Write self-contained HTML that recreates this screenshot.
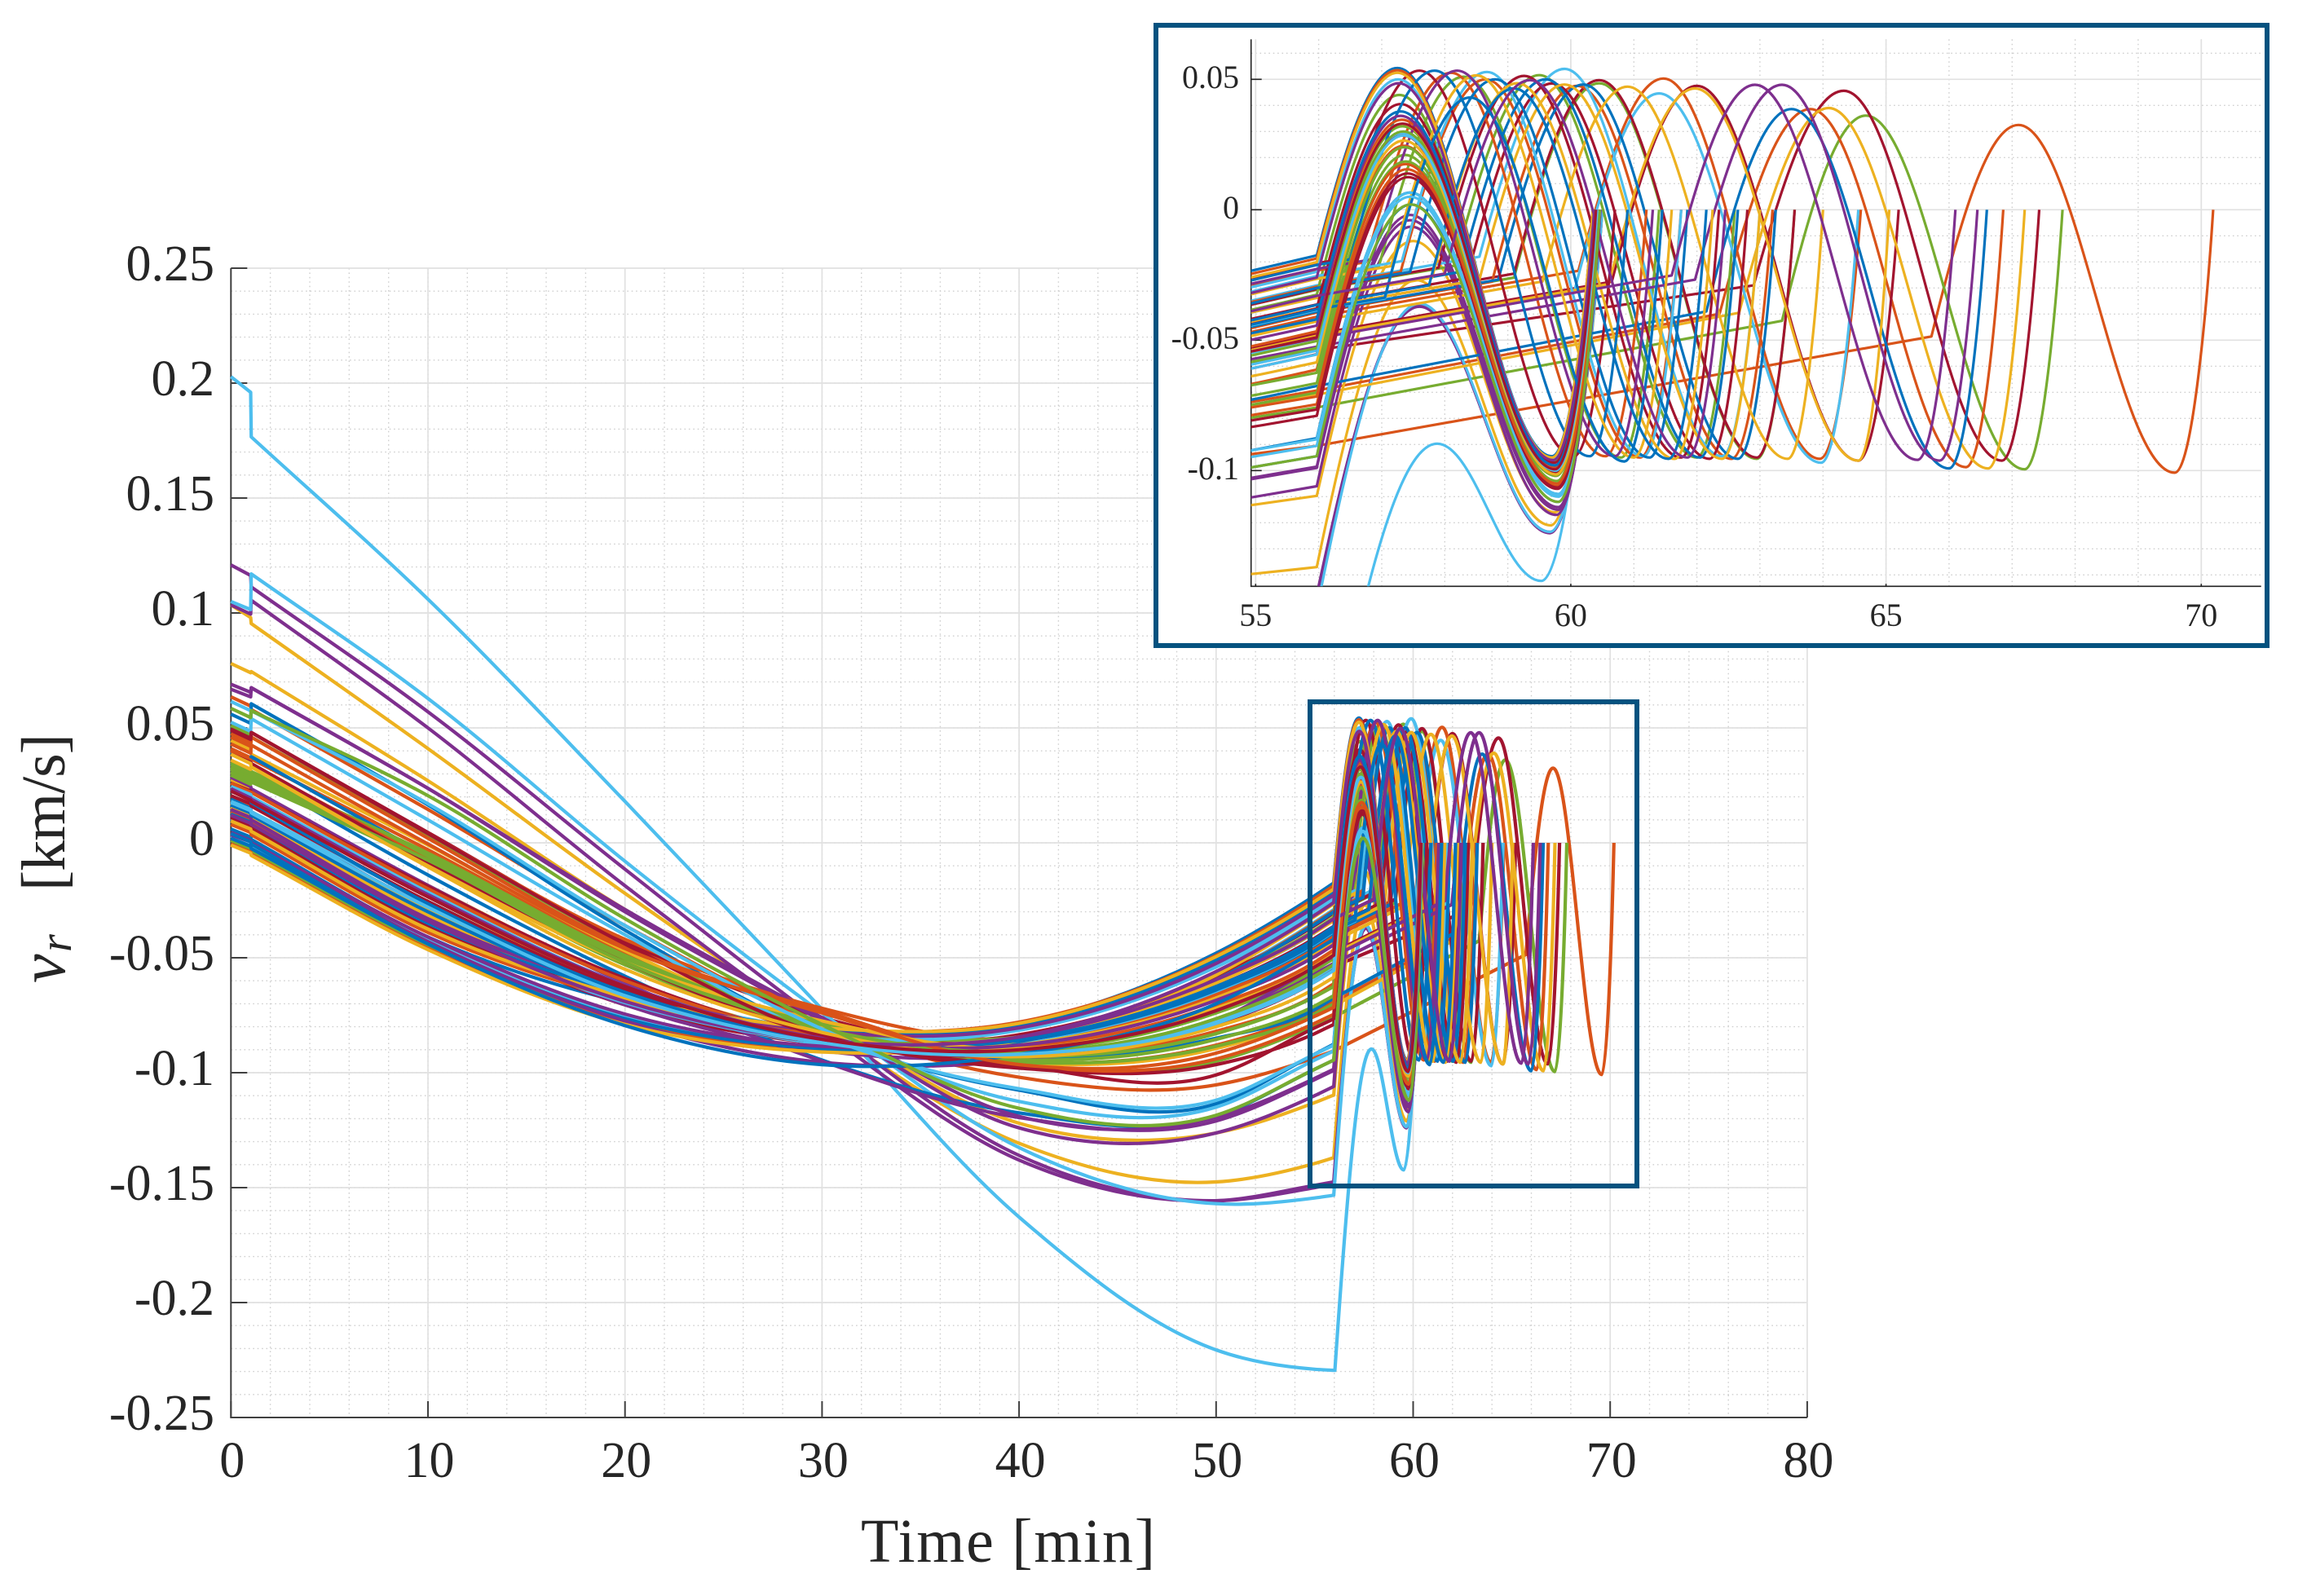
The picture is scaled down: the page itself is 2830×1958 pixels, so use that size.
<!DOCTYPE html>
<html lang="en">
<head>
<meta charset="utf-8">
<title>Radial velocity vs time</title>
<style>
html,body{margin:0;padding:0;background:#fff;}
svg{display:block;}
text{font-family:"Liberation Serif",serif;fill:#262626;}
</style>
</head>
<body>
<svg id="chart" xmlns="http://www.w3.org/2000/svg" width="2830" height="1958" viewBox="0 0 2830 1958">
  <defs>
    <clipPath id="inset-clip"><rect x="1534.7" y="48.3" width="1239" height="671"/></clipPath>
  </defs>
  <rect x="0" y="0" width="2830" height="1958" fill="#fff"/>
  <g id="main-axes"></g>
  <g id="main-curves" fill="none" stroke-linejoin="round"></g>
  <rect x="1607" y="861" width="401" height="594" fill="none" stroke="#04527f" stroke-width="6"/>
  <text x="1056" y="1916" font-size="76" textLength="361">Time [min]</text>
  <text transform="translate(79,1206) rotate(-90)" font-size="80" font-style="italic">v</text>
  <text transform="translate(87,1168) rotate(-90)" font-size="56" font-style="italic">r</text>
  <text transform="translate(79,1093) rotate(-90)" font-size="76" textLength="193">[km/s]</text>
  <rect x="1418" y="31" width="1363" height="761" fill="#fff" stroke="#04527f" stroke-width="6"/>
  <g id="inset-axes"></g>
  <g id="inset-curves" fill="none" stroke-linejoin="round" clip-path="url(#inset-clip)"></g>
</svg>
<script>
// Axis ticks and labels
const mainXTicks = [0,10,20,30,40,50,60,70,80];
const mainXTickLabels = ['0','10','20','30','40','50','60','70','80'];
const mainYTicks = [0.25,0.2,0.15,0.1,0.05,0,-0.05,-0.1,-0.15,-0.2,-0.25];
const mainYTickLabels = ['0.25','0.2','0.15','0.1','0.05','0','-0.05','-0.1','-0.15','-0.2','-0.25'];
const insetXTicks = [55,60,65,70];
const insetXTickLabels = ['55','60','65','70'];
const insetYTicks = [0.05,0,-0.05,-0.1];
const insetYTickLabels = ['0.05','0','-0.05','-0.1'];

// Sample times (min) for the coast columns below
const coastTimes = [0,1,1.03,10,20,30,40,50,55,55.97];

// Coast-phase radial velocity (km/s), one row per run, columns follow coastTimes
const coastBlue = [
[.006,.0025,.0015,-.041,-.0695,-.0815,-.0785,-.048,-.023,-.0175],
[.056,.052,.0605,.0165,-.038,-.084,-.1076,-.1135,-.0919,-.0876],
[.0345,.031,.03,-.014,-.058,-.0945,-.1175,-.119,-.0985,-.0945],
[.0395,.0355,.0375,-.0055,-.0495,-.083,-.094,-.085,-.0725,-.0676],
[.019,.015,.0135,-.028,-.065,-.0855,-.0865,-.0645,-.0445,-.039],
[.0145,.0105,.0095,-.0325,-.068,-.086,-.0845,-.0605,-.039,-.0335],
[.002,-.0015,-.0025,-.0435,-.0765,-.0895,-.0865,-.0595,-.0355,-.03],
[.0125,.009,.008,-.035,-.0655,-.081,-.0795,-.051,-.0267,-.0212],
[.0165,.013,.012,-.03,-.066,-.0855,-.0855,-.0625,-.042,-.0365],
[.0225,.019,.0175,-.0265,-.065,-.0855,-.086,-.064,-.0437,-.0382],
[.004,.0005,-.0005,-.044,-.0795,-.0965,-.092,-.07,-.047,-.042]
];
const coastOrange = [
[.0635,.0595,.058,.0145,-.036,-.079,-.102,-.1053,-.0935,-.0905],
[.041,.037,.0365,-.003,-.048,-.0815,-.0955,-.088,-.0734,-.0693],
[.0205,.0165,.016,-.026,-.064,-.083,-.087,-.066,-.0465,-.041],
[.0475,.0435,.048,.004,-.042,-.072,-.0855,-.065,-.045,-.0394],
[-.0005,-.004,-.005,-.046,-.078,-.0905,-.0865,-.0595,-.035,-.0295],
[.0135,.01,.009,-.034,-.065,-.0815,-.08,-.052,-.0288,-.0233],
[.008,.0045,.0035,-.039,-.068,-.081,-.078,-.049,-.0242,-.0187],
[.026,.022,.022,-.02,-.06,-.0845,-.089,-.0705,-.052,-.0466],
[.04,.036,.034,-.0075,-.052,-.0815,-.0925,-.082,-.0665,-.0613],
[.046,.042,.046,.002,-.045,-.073,-.0965,-.094,-.0785,-.0746],
[.043,.039,.0425,-.0005,-.046,-.074,-.0965,-.0915,-.0755,-.0716]
];
const coastYellow = [
[.1035,.098,.0954,.041,-.022,-.08,-.1307,-.1475,-.1395,-.137],
[.078,.074,.0745,.027,-.029,-.077,-.122,-.1262,-.113,-.1097],
[.0445,.0405,.0385,-.001,-.047,-.082,-.096,-.0895,-.075,-.0709],
[.0275,.0235,.023,-.0185,-.0595,-.084,-.0895,-.0715,-.0535,-.0483],
[.0225,.0185,.018,-.0235,-.063,-.085,-.0875,-.0675,-.048,-.0428],
[.017,.0135,.0125,-.029,-.0665,-.0855,-.0855,-.0635,-.043,-.0378],
[.0155,.0115,.0105,-.0315,-.0675,-.086,-.0845,-.061,-.039,-.0338],
[-.001,-.0045,-.0055,-.0465,-.079,-.091,-.086,-.0575,-.032,-.0265],
[.0095,.006,.005,-.0375,-.067,-.0805,-.0785,-.0495,-.0255,-.0201],
[.0385,.0345,.033,-.01,-.052,-.0775,-.0895,-.072,-.054,-.0488],
[.036,.032,.033,-.0105,-.055,-.0825,-.093,-.08,-.0635,-.0585]
];
const coastPurple = [
[.1209,.1163,.1113,.057,-.0115,-.078,-.136,-.1557,-.15,-.1485],
[.1035,.0995,.1055,.05,-.0187,-.082,-.138,-.1557,-.149,-.1475],
[.069,.0655,.0675,.0237,-.03,-.0775,-.124,-.1262,-.11,-.106],
[.0668,.0635,.0674,.0237,-.029,-.076,-.119,-.1195,-.1025,-.0985],
[.0285,.0245,.0235,-.0185,-.061,-.095,-.1195,-.121,-.103,-.099],
[.012,.0085,.0075,-.033,-.0705,-.0905,-.0925,-.077,-.057,-.0525],
[.0035,.0005,-.0005,-.043,-.0775,-.0955,-.0945,-.0775,-.054,-.0493],
[.0145,.011,.01,-.033,-.0645,-.082,-.0805,-.0525,-.028,-.0227],
[.0045,.001,0,-.041,-.0745,-.0885,-.0845,-.056,-.0315,-.026],
[.0235,.0195,.019,-.0225,-.062,-.085,-.088,-.0685,-.0495,-.0444],
[.012,.0085,.008,-.034,-.069,-.086,-.0845,-.0595,-.0385,-.033]
];
const coastGreen = [
[.051,.047,.046,.003,-.044,-.0815,-.0975,-.095,-.0795,-.0758],
[.033,.029,.0285,-.0065,-.05,-.0785,-.086,-.0645,-.0445,-.0393],
[.0305,.0265,.027,-.009,-.053,-.08,-.084,-.058,-.036,-.0307],
[.001,-.0025,-.0035,-.0445,-.0775,-.09,-.0855,-.0575,-.0315,-.0263],
[.0325,.0285,.0295,-.005,-.05,-.079,-.0845,-.0595,-.038,-.0326],
[.035,.031,.031,-.0045,-.049,-.0795,-.09,-.074,-.0555,-.0503],
[.032,.028,.029,-.0065,-.051,-.082,-.0945,-.0855,-.071,-.0665],
[.034,.03,.0305,-.0055,-.05,-.0825,-.0955,-.0885,-.0745,-.0701],
[.0295,.0255,.0265,-.0085,-.053,-.083,-.093,-.083,-.067,-.0625],
[.031,.027,.0275,-.0075,-.052,-.081,-.091,-.0765,-.058,-.053],
[.0585,.0545,.0575,.0205,-.033,-.079,-.1155,-.1185,-.0985,-.0945]
];
const coastLightBlue = [
[.2028,.196,.1766,.106,.018,-.0724,-.1628,-.2206,-.229,-.2295],
[.105,.1015,.117,.0628,-.008,-.074,-.1326,-.157,-.1545,-.1533],
[.0135,.01,.009,-.032,-.0685,-.0875,-.0895,-.0725,-.0545,-.0492],
[.003,-.0005,-.0015,-.0425,-.0755,-.089,-.086,-.059,-.0345,-.029],
[.0155,.012,.011,-.032,-.0635,-.0815,-.0815,-.054,-.031,-.0254],
[.0105,.007,.006,-.035,-.0695,-.0865,-.0865,-.0645,-.044,-.0385],
[.018,.0145,.0135,-.0255,-.0645,-.084,-.0815,-.053,-.0293,-.0238],
[.0245,.021,.02,-.0215,-.062,-.0855,-.0915,-.0775,-.059,-.054],
[.0525,.0485,.054,.01,-.04,-.084,-.107,-.112,-.092,-.088],
[.0615,.0575,.0575,.017,-.036,-.081,-.1125,-.115,-.0945,-.0905],
[.0175,.014,.013,-.028,-.0665,-.087,-.092,-.0785,-.0605,-.0555]
];
const coastCrimson = [
[.0495,.0455,.048,.0045,-.043,-.076,-.0915,-.0775,-.0587,-.0538],
[.011,.0075,.0065,-.034,-.0705,-.0875,-.0895,-.0715,-.0525,-.0476],
[.0155,.012,.011,-.03,-.0665,-.0855,-.086,-.0635,-.043,-.0378],
[.012,.0085,.0075,-.034,-.0695,-.0865,-.0835,-.058,-.036,-.0304],
[.0175,.014,.0135,-.028,-.065,-.085,-.085,-.0625,-.0415,-.0363],
[.011,.0075,.0065,-.036,-.066,-.081,-.079,-.0495,-.026,-.0205],
[.026,.0225,.022,-.019,-.059,-.0845,-.086,-.0635,-.0435,-.0379],
[.0205,.017,.016,-.0255,-.064,-.0865,-.0925,-.079,-.0605,-.0554],
[.0385,.035,.0345,-.0085,-.052,-.084,-.098,-.0965,-.083,-.079],
[.049,.045,.048,.004,-.044,-.0835,-.097,-.101,-.0805,-.0766],
[.0225,.0185,.018,-.0235,-.0625,-.0855,-.09,-.073,-.054,-.0489]
];

// Burn phase, one row per run: [switch t, switch v, peak t, peak v, trough t, trough v, end t]
const burnBlue = [
[55.97,-.0175,57.25,.0543,59.7,-.0945,60.35],
[55.97,-.0876,57.45,.0066,59.8,-.109,60.45],
[55.97,-.0945,57.47,.002,59.8,-.112,60.45],
[62.15,-.039,63.5,.0386,66,-.0992,66.6],
[58.85,-.0268,60.2,.048,62.65,-.0955,63.25],
[58.25,-.0238,59.6,.05,62.05,-.095,62.65],
[57.45,-.0238,58.8,.05,61.25,-.095,61.85],
[56.5,-.019,57.84,.0533,60.3,-.0945,60.9],
[57.75,-.029,59.1,.0465,61.55,-.0955,62.15],
[57.05,-.0337,58.4,.043,60.85,-.0965,61.45],
[55.97,-.042,57.3,.0377,59.75,-.098,60.4]
];
const burnOrange = [
[65.72,-.0486,67.1,.0325,69.58,-.1008,70.19],
[62.36,-.0399,63.8,.0386,66.27,-.0987,66.86],
[60.12,-.0234,61.47,.0503,63.95,-.0955,64.6],
[58.75,-.0276,60.1,.0475,62.55,-.0955,63.2],
[57.3,-.0238,58.65,.05,61.1,-.095,61.75],
[56.75,-.0201,58.1,.0525,60.55,-.0945,61.2],
[55.97,-.0187,57.25,.0535,59.7,-.095,60.35],
[55.97,-.0466,57.32,.0345,59.75,-.099,60.4],
[55.97,-.0613,57.35,.0245,59.77,-.102,60.42],
[55.97,-.0746,57.4,.0155,59.78,-.106,60.45],
[55.97,-.0716,57.38,.0175,59.78,-.105,60.45]
];
const burnYellow = [
[55.97,-.137,57.55,-.027,59.68,-.121,60.45],
[55.97,-.1097,57.5,-.012,59.75,-.116,60.5],
[62.67,-.0395,64.09,.039,66.62,-.0992,67.2],
[60.6,-.0285,61.97,.0465,64.56,-.0962,65.05],
[59.55,-.0275,60.9,.0472,63.44,-.0955,64],
[58.55,-.0268,59.9,.048,62.4,-.0955,63],
[57.8,-.026,59.15,.0485,61.65,-.0955,62.25],
[57.15,-.0216,58.5,.0515,61,-.095,61.6],
[55.97,-.0201,57.25,.0525,59.7,-.095,60.35],
[55.97,-.0488,57.32,.033,59.75,-.0995,60.4],
[55.97,-.0585,57.35,.0265,59.77,-.1015,60.42]
];
const burnPurple = [
[55.97,-.1485,57.6,-.0365,59.67,-.124,60.5],
[55.97,-.1475,57.6,-.0372,59.67,-.1235,60.5],
[55.97,-.106,57.47,-.0065,59.77,-.117,60.47],
[55.97,-.0985,57.45,-.002,59.8,-.114,60.45],
[55.97,-.099,57.45,-.004,59.8,-.115,60.45],
[61.97,-.0268,63.35,.0479,65.85,-.0962,66.45],
[61.6,-.0252,62.92,.0479,65.5,-.0959,66.1],
[56.85,-.019,58.2,.0533,60.7,-.0945,61.3],
[55.97,-.026,57.27,.0485,59.72,-.096,60.37],
[55.97,-.0444,57.3,.036,59.75,-.098,60.4],
[58,-.0245,59.35,.0497,61.85,-.095,62.45]
];
const burnGreen = [
[63.35,-.0426,64.68,.0361,67.2,-.0995,67.8],
[59.1,-.026,60.45,.0485,62.95,-.0955,63.55],
[58.15,-.0215,59.5,.0516,62,-.095,62.6],
[56.95,-.0222,58.3,.051,60.8,-.095,61.4],
[55.97,-.0326,57.28,.044,59.72,-.0965,60.38],
[55.97,-.0503,57.33,.032,59.76,-.1,60.42],
[55.97,-.0665,57.37,.021,59.78,-.104,60.44],
[55.97,-.0701,57.38,.0185,59.78,-.105,60.45],
[55.97,-.0625,57.36,.024,59.77,-.102,60.43],
[55.97,-.053,57.34,.03,59.76,-.1,60.42],
[55.97,-.0945,57.46,.002,59.8,-.112,60.46]
];
const burnLightBlue = [
[56.03,-.2295,57.88,-.0897,59.53,-.1423,60.4],
[55.97,-.1533,57.6,-.036,59.67,-.1235,60.5],
[60.05,-.0318,61.4,.0446,63.97,-.097,64.56],
[58.55,-.018,59.9,.054,62.4,-.0945,63],
[57.32,-.0197,58.67,.0528,61.15,-.0945,61.75],
[57.05,-.034,58.4,.043,60.85,-.0965,61.45],
[55.97,-.0238,57.26,.05,59.72,-.0955,60.36],
[55.97,-.054,57.34,.0295,59.76,-.1005,60.42],
[55.97,-.088,57.45,.0065,59.8,-.109,60.46],
[55.97,-.0905,57.45,.005,59.8,-.11,60.46],
[55.97,-.0555,57.35,.0285,59.76,-.1,60.42]
];
const burnCrimson = [
[62.9,-.029,64.33,.0456,66.84,-.0962,67.43],
[60.65,-.0276,62,.0475,64.56,-.0962,65.2],
[59.1,-.0245,60.45,.0497,62.95,-.095,63.55],
[57.9,-.0222,59.26,.0513,61.75,-.095,62.35],
[58.35,-.0262,59.7,.0484,62.2,-.0955,62.8],
[56.3,-.0192,57.6,.0533,60.05,-.0945,60.7],
[55.97,-.0379,57.3,.0405,59.74,-.097,60.4],
[55.97,-.0554,57.34,.0285,59.76,-.1005,60.42],
[55.97,-.079,57.42,.0125,59.79,-.107,60.45],
[55.97,-.0766,57.41,.0139,59.79,-.1065,60.45],
[55.97,-.0489,57.33,.033,59.75,-.0995,60.4]
];

const seriesSets = [
  {color:'#0072BD', coast:coastBlue, burn:burnBlue},
  {color:'#D95319', coast:coastOrange, burn:burnOrange},
  {color:'#EDB120', coast:coastYellow, burn:burnYellow},
  {color:'#7E2F8E', coast:coastPurple, burn:burnPurple},
  {color:'#77AC30', coast:coastGreen, burn:burnGreen},
  {color:'#4DBEEE', coast:coastLightBlue, burn:burnLightBlue},
  {color:'#A2142F', coast:coastCrimson, burn:burnCrimson}
];

const NS = 'http://www.w3.org/2000/svg';

// Main axis functions
const mainX = t => 283.3 + t * 24.17;
const mainY = v => 1034 - v * 2820;
// Inset axis functions
const insetX = t => 1540.3 + (t - 55) * 77.33;
const insetY = v => 257.3 - v * 3200;

function make(tag, parent) {
  const el = document.createElementNS(NS, tag);
  parent.appendChild(el);
  return el;
}
function fmt(n) { return n.toFixed(1); }

function tracePath(fx, fy, coast, burn) {
  const T = coastTimes;
  let d = 'M' + fmt(fx(T[0])) + ' ' + fmt(fy(coast[0]));
  d += 'L' + fmt(fx(T[1])) + ' ' + fmt(fy(coast[1]));
  d += 'L' + fmt(fx(T[2])) + ' ' + fmt(fy(coast[2]));
  const last = T.length - 1;
  const chord = i => (coast[i + 1] - coast[i]) / (T[i + 1] - T[i]);
  const slope = i => {
    if (i <= 2) return chord(2);
    if (i >= last) return chord(last - 1);
    const h0 = T[i] - T[i - 1], h1 = T[i + 1] - T[i];
    return (h1 * chord(i - 1) + h0 * chord(i)) / (h0 + h1);
  };
  for (let i = 2; i < last; i++) {
    const h = T[i + 1] - T[i];
    const c1t = T[i] + h / 3, c1v = coast[i] + slope(i) * h / 3;
    const c2t = T[i + 1] - h / 3, c2v = coast[i + 1] - slope(i + 1) * h / 3;
    d += 'C' + fmt(fx(c1t)) + ' ' + fmt(fy(c1v)) + ' ' + fmt(fx(c2t)) + ' ' + fmt(fy(c2v)) + ' ' + fmt(fx(T[i + 1])) + ' ' + fmt(fy(coast[i + 1]));
  }
  const [ts, vs, tp, vp, tr, vr, te] = burn;
  if (ts > T[last] + 0.02) d += 'L' + fmt(fx(ts)) + ' ' + fmt(fy(vs));
  const curve = (a, b, c, e, f, g) => 'C' + fmt(fx(a)) + ' ' + fmt(fy(b)) + ' ' + fmt(fx(c)) + ' ' + fmt(fy(e)) + ' ' + fmt(fx(f)) + ' ' + fmt(fy(g));
  const dtRise = tp - ts, dvRise = vp - vs;
  d += curve(ts + 0.33 * dtRise, vs + 0.55 * dvRise, tp - 0.35 * dtRise, vp, tp, vp);
  const dtFall = tr - tp;
  d += curve(tp + 0.3642 * dtFall, vp, tr - 0.3642 * dtFall, vr, tr, vr);
  const dtEnd = te - tr;
  d += curve(tr + 0.42 * dtEnd, vr, te - 0.2 * dtEnd, vr * 0.45, te, 0);
  return d;
}

function gridPath(xs, ys, fx, fy, x0, x1, y0, y1) {
  let d = '';
  xs.forEach(t => { d += 'M' + fmt(fx(t)) + ' ' + y0 + 'V' + y1; });
  ys.forEach(v => { d += 'M' + x0 + ' ' + fmt(fy(v)) + 'H' + x1; });
  return d;
}

function stepList(from, to, step) {
  const out = [];
  const n = Math.round((to - from) / step);
  for (let i = 0; i <= n; i++) out.push(from + i * step);
  return out;
}

function drawPanel(host, cfg) {
  const minor = make('path', host);
  
  
  minor.setAttribute('d', gridPath(cfg.minorX, cfg.minorY, cfg.fx, cfg.fy, cfg.x0, cfg.x1, cfg.y0, cfg.y1));
  minor.setAttribute('stroke', '#cfcfcf');
  minor.setAttribute('stroke-width', '1.4');
  minor.setAttribute('stroke-dasharray', '1.6 3.8');
  minor.setAttribute('fill', 'none');

  const major = make('path', host);
  
  
  major.setAttribute('d', gridPath(cfg.xTicks, cfg.yTicks, cfg.fx, cfg.fy, cfg.x0, cfg.x1, cfg.y0, cfg.y1));
  major.setAttribute('stroke', '#e1e1e1');
  major.setAttribute('stroke-width', '1.7');
  major.setAttribute('fill', 'none');

  let tickD = '';
  cfg.xTicks.forEach(t => { tickD += 'M' + fmt(cfg.fx(t)) + ' ' + cfg.y1 + 'v' + (-cfg.xTickLen); });
  cfg.yTicks.forEach(v => { tickD += 'M' + cfg.x0 + ' ' + fmt(cfg.fy(v)) + 'h' + cfg.yTickLen; });
  const ticks = make('path', host);
  
  
  ticks.setAttribute('d', tickD);
  ticks.setAttribute('stroke', cfg.axisColor);
  ticks.setAttribute('stroke-width', cfg.axisWidth);
  ticks.setAttribute('fill', 'none');

  const axes = make('path', host);
  
  
  axes.setAttribute('d', 'M' + cfg.x0 + ' ' + cfg.y0 + 'V' + cfg.y1 + 'H' + cfg.x1);
  axes.setAttribute('stroke', cfg.axisColor);
  axes.setAttribute('stroke-width', cfg.axisWidth);
  axes.setAttribute('fill', 'none');

  cfg.xTicks.forEach((t, i) => {
    const lab = make('text', host);
    
    
    lab.setAttribute('x', fmt(cfg.fx(t) + cfg.xLabelShift));
    lab.setAttribute('y', cfg.xLabelY);
    lab.setAttribute('font-size', cfg.fontSize);
    lab.setAttribute('text-anchor', 'middle');
    lab.textContent = cfg.xLabels[i];
  });
  cfg.yTicks.forEach((v, i) => {
    const lab = make('text', host);
    
    
    lab.setAttribute('x', cfg.yLabelX);
    lab.setAttribute('y', fmt(cfg.fy(v) + cfg.yLabelDy));
    lab.setAttribute('font-size', cfg.fontSize);
    lab.setAttribute('text-anchor', 'end');
    lab.textContent = cfg.yLabels[i];
  });
}

drawPanel(document.getElementById('main-axes'), {
  fx: mainX, fy: mainY, x0: 283.3, x1: 2216.9, y0: 329, y1: 1739,
  xTicks: mainXTicks, yTicks: mainYTicks, xLabels: mainXTickLabels, yLabels: mainYTickLabels,
  minorX: stepList(2, 78, 2), minorY: stepList(-0.24, 0.24, 0.01),
  xTickLen: 20, yTickLen: 20, axisColor: '#404040', axisWidth: 2,
  fontSize: 62, xLabelY: 1812, xLabelShift: 1.5, yLabelX: 263, yLabelDy: 15
});
drawPanel(document.getElementById('inset-axes'), {
  fx: insetX, fy: insetY, x0: 1534.7, x1: 2773.7, y0: 48.3, y1: 719.3,
  xTicks: insetXTicks, yTicks: insetYTicks, xLabels: insetXTickLabels, yLabels: insetYTickLabels,
  minorX: stepList(56, 70, 1), minorY: stepList(-0.14, 0.06, 0.01),
  xTickLen: 3, yTickLen: 13, axisColor: '#222222', axisWidth: 1.6,
  fontSize: 40, xLabelY: 768, xLabelShift: 0, yLabelX: 1520, yLabelDy: 10.5
});

const mainCurves = document.getElementById('main-curves');
const insetCurves = document.getElementById('inset-curves');
for (let run = 0; run < coastBlue.length; run++) {
  seriesSets.forEach(set => {
    const mainLine = make('path', mainCurves);
    
    
    mainLine.setAttribute('d', tracePath(mainX, mainY, set.coast[run], set.burn[run]));
    mainLine.setAttribute('stroke', set.color);
    mainLine.setAttribute('stroke-width', '4.2');

    const insetLine = make('path', insetCurves);
    
    
    insetLine.setAttribute('d', tracePath(insetX, insetY, set.coast[run], set.burn[run]));
    insetLine.setAttribute('stroke', set.color);
    insetLine.setAttribute('stroke-width', '3.2');
  });
}
</script>
</body>
</html>
